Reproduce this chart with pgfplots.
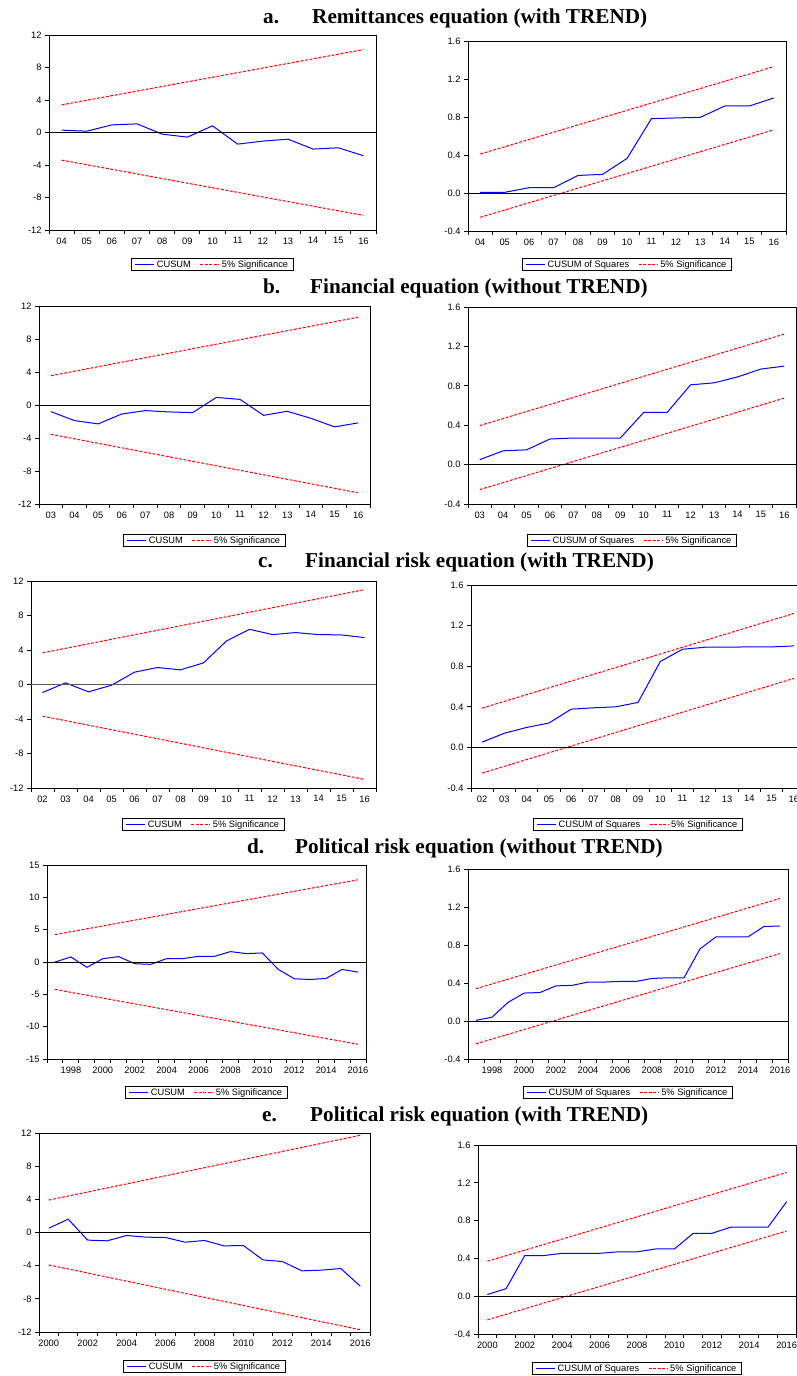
\documentclass[border=0pt]{standalone}
\usepackage{fontspec}
\setmainfont{Liberation Sans}
\newfontfamily\serifbf{Liberation Serif}[BoldFont={Liberation Serif Bold}]
\usepackage{pgfplots}
\pgfplotsset{compat=1.18}
\newcommand{\ttl}{\serifbf\bfseries\fontsize{21.2}{24}\selectfont}
\pgfplotsset{
  base/.style={
    scale only axis, anchor=south west,
    axis line style={black, line width=1pt},
    tick align=outside,
    xtick pos=left, ytick pos=left,
    major tick length=4pt, minor tick length=4pt,
    tick style={black, line width=1pt},
    major x tick style={draw=none},
    tick label style={font=\fontsize{9.3}{10}\selectfont, black},
    legend style={at={(0.5,0)}, anchor=north, legend columns=2, draw=black, line width=1pt,
      font=\fontsize{9.3}{10}\selectfont, inner xsep=3pt, inner ysep=0.5pt,
      nodes={inner ysep=1.5pt},
      /tikz/every even column/.append style={column sep=7pt}},
    legend image code/.code={\draw[#1] (0pt,0pt) -- (19pt,0pt);},
    legend cell align=left,
  },
  cu/.style={draw=blue, line width=1pt},
  sig/.style={draw=red, line width=1pt, dash pattern=on 3pt off 1.5pt},
  zl/.style={draw=black, line width=1pt, forget plot},
  ya/.style={ymin=-12, ymax=12, ytick={-12,-8,-4,0,4,8,12}, yticklabels={-12,-8,-4,0,4,8,12}},
  yq/.style={ymin=-0.4, ymax=1.6, ytick={-0.4,0,0.4,0.8,1.2,1.6}, yticklabels={-0.4,0.0,0.4,0.8,1.2,1.6}},
  xa/.style={xmin=3.5, xmax=16.5, xtick={4,...,16}, xticklabels={04,05,06,07,08,09,10,11,12,13,14,15,16}, minor xtick={3.5,4.5,...,16.5}},
  xb/.style={xmin=2.5, xmax=16.5, xtick={3,...,16}, xticklabels={03,04,05,06,07,08,09,10,11,12,13,14,15,16}, minor xtick={2.5,3.5,...,16.5}},
  xc/.style={xmin=1.5, xmax=16.5, xtick={2,...,16}, xticklabels={02,03,04,05,06,07,08,09,10,11,12,13,14,15,16}, minor xtick={1.5,2.5,...,16.5}},
  xd/.style={xmin=1996.5, xmax=2016.5, xtick={1998,2000,2002,2004,2006,2008,2010,2012,2014,2016}, xticklabels={1998,2000,2002,2004,2006,2008,2010,2012,2014,2016}, minor xtick={1996.5,1997.5,1998.5,1999.5,2000.5,2001.5,2002.5,2003.5,2004.5,2005.5,2006.5,2007.5,2008.5,2009.5,2010.5,2011.5,2012.5,2013.5,2014.5,2015.5,2016.5}},
  xe/.style={xmin=1999.5, xmax=2016.5, xtick={2000,2002,2004,2006,2008,2010,2012,2014,2016}, xticklabels={2000,2002,2004,2006,2008,2010,2012,2014,2016}, minor xtick={1999.5,2000.5,2001.5,2002.5,2003.5,2004.5,2005.5,2006.5,2007.5,2008.5,2009.5,2010.5,2011.5,2012.5,2013.5,2014.5,2015.5,2016.5}},
}
\begin{document}
\begin{tikzpicture}
\path[use as bounding box] (0,0) rectangle (796pt,-1376pt);

% titles
\node[anchor=base west, inner sep=0, font=\ttl] at (263pt,-23pt) {a.};
\node[anchor=base west, inner sep=0, font=\ttl] at (312pt,-23pt) {Remittances equation (with TREND)};
\node[anchor=base west, inner sep=0, font=\ttl] at (263pt,-293pt) {b.};
\node[anchor=base west, inner sep=0, font=\ttl] at (310pt,-293pt) {Financial equation (without TREND)};
\node[anchor=base west, inner sep=0, font=\ttl] at (258pt,-567pt) {c.};
\node[anchor=base west, inner sep=0, font=\ttl] at (305pt,-567pt) {Financial risk equation (with TREND)};
\node[anchor=base west, inner sep=0, font=\ttl] at (247pt,-853pt) {d.};
\node[anchor=base west, inner sep=0, font=\ttl] at (295pt,-853pt) {Political risk equation (without TREND)};
\node[anchor=base west, inner sep=0, font=\ttl] at (262pt,-1121pt) {e.};
\node[anchor=base west, inner sep=0, font=\ttl] at (310pt,-1121pt) {Political risk equation (with TREND)};

% ---------- a left
\begin{axis}[base, at={(49pt,-230pt)}, width=327pt, height=195pt, xa, ya, legend style={yshift=-28pt}]
\addplot[cu] coordinates {(4,0.29)(5,0.16)(6,0.94)(7,1.06)(8,-0.2)(9,-0.57)(10,0.82)(11,-1.43)(12,-1.06)(13,-0.82)(14,-2.04)(15,-1.88)(16,-2.86)};
\addlegendentry{CUSUM}
\addplot[sig] coordinates {(4,3.4)(16,10.2)};
\addlegendentry{5\% Significance}
\addplot[sig, forget plot] coordinates {(4,-3.4)(16,-10.2)};
\addplot[zl] coordinates {(3.5,0)(16.5,0)};
\end{axis}

% ---------- a right
\begin{axis}[base, at={(468pt,-231pt)}, width=318pt, height=190pt, xa, yq, legend style={yshift=-27pt}]
\addplot[cu] coordinates {(4,0.007)(5,0.007)(6,0.056)(7,0.056)(8,0.185)(9,0.196)(10,0.364)(11,0.783)(12,0.79)(13,0.797)(14,0.916)(15,0.916)(16,1.0)};
\addlegendentry{CUSUM of Squares}
\addplot[sig] coordinates {(4,0.41)(16,1.33)};
\addlegendentry{5\% Significance}
\addplot[sig, forget plot] coordinates {(4,-0.256)(16,0.665)};
\addplot[zl] coordinates {(3.5,0)(16.5,0)};
\end{axis}

% ---------- b left
\begin{axis}[base, at={(39pt,-504pt)}, width=331pt, height=198pt, xb, ya, legend style={yshift=-30pt}]
\addplot[cu] coordinates {(3,-0.8)(4,-1.89)(5,-2.29)(6,-1.09)(7,-0.68)(8,-0.84)(9,-0.92)(10,0.92)(11,0.68)(12,-1.25)(13,-0.76)(14,-1.61)(15,-2.65)(16,-2.17)};
\addlegendentry{CUSUM}
\addplot[sig] coordinates {(3,3.55)(16,10.64)};
\addlegendentry{5\% Significance}
\addplot[sig, forget plot] coordinates {(3,-3.55)(16,-10.64)};
\addplot[zl] coordinates {(2.5,0)(16.5,0)};
\end{axis}

% ---------- b right
\begin{axis}[base, at={(468pt,-504pt)}, width=328pt, height=197pt, xb, yq, legend style={yshift=-30pt}]
\addplot[cu] coordinates {(3,0.05)(4,0.14)(5,0.15)(6,0.26)(7,0.27)(8,0.27)(9,0.27)(10,0.53)(11,0.53)(12,0.81)(13,0.83)(14,0.89)(15,0.97)(16,1.0)};
\addlegendentry{CUSUM of Squares}
\addplot[sig] coordinates {(3,0.396)(16,1.325)};
\addlegendentry{5\% Significance}
\addplot[sig, forget plot] coordinates {(3,-0.254)(16,0.675)};
\addplot[zl] coordinates {(2.5,0)(16.5,0)};
\end{axis}

% ---------- c left
\begin{axis}[base, at={(31pt,-788pt)}, width=345pt, height=207pt, xc, ya, legend style={yshift=-30pt}]
\addplot[cu] coordinates {(2,-0.93)(3,0.19)(4,-0.85)(5,-0.08)(6,1.43)(7,1.97)(8,1.7)(9,2.51)(10,5.05)(11,6.4)(12,5.79)(13,6.02)(14,5.79)(15,5.75)(16,5.44)};
\addlegendentry{CUSUM}
\addplot[sig] coordinates {(2,3.67)(16,11.0)};
\addlegendentry{5\% Significance}
\addplot[sig, forget plot] coordinates {(2,-3.67)(16,-11.0)};
\addplot[zl, draw=black!65] coordinates {(1.5,0)(16.5,0)};
\end{axis}

% ---------- c right
\begin{axis}[base, at={(471pt,-788pt)}, width=334pt, height=203pt, xc, yq, legend style={yshift=-30pt}]
\addplot[cu] coordinates {(2,0.052)(3,0.14)(4,0.197)(5,0.24)(6,0.377)(7,0.39)(8,0.4)(9,0.443)(10,0.846)(11,0.967)(12,0.987)(13,0.988)(14,0.99)(15,0.99)(16,1.0)};
\addlegendentry{CUSUM of Squares}
\addplot[sig] coordinates {(2,0.387)(16,1.32)};
\addlegendentry{5\% Significance}
\addplot[sig, forget plot] coordinates {(2,-0.253)(16,0.68)};
\addplot[zl] coordinates {(1.5,0)(16.5,0)};
\end{axis}

% ---------- d left
\begin{axis}[base, at={(47pt,-1059pt)}, width=319pt, height=194pt, xd,
  ymin=-15, ymax=15, ytick={-15,-10,-5,0,5,10,15}, yticklabels={-15,-10,-5,0,5,10,15}, legend style={yshift=-27pt}]
\addplot[cu] coordinates {(1997,0)(1998,0.78)(1999,-0.83)(2000,0.52)(2001,0.83)(2002,-0.26)(2003,-0.36)(2004,0.52)(2005,0.52)(2006,0.88)(2007,0.88)(2008,1.61)(2009,1.3)(2010,1.4)(2011,-1.14)(2012,-2.59)(2013,-2.7)(2014,-2.54)(2015,-1.14)(2016,-1.56)};
\addlegendentry{CUSUM}
\addplot[sig] coordinates {(1997,4.24)(2016,12.72)};
\addlegendentry{5\% Significance}
\addplot[sig, forget plot] coordinates {(1997,-4.24)(2016,-12.72)};
\addplot[zl] coordinates {(1996.5,0)(2016.5,0)};
\end{axis}

% ---------- d right
\begin{axis}[base, at={(468pt,-1059pt)}, width=320pt, height=190pt, xd, yq, legend style={yshift=-27pt}]
\addplot[cu] coordinates {(1997,0.007)(1998,0.04)(1999,0.196)(2000,0.294)(2001,0.3)(2002,0.37)(2003,0.375)(2004,0.41)(2005,0.41)(2006,0.417)(2007,0.417)(2008,0.448)(2009,0.455)(2010,0.455)(2011,0.76)(2012,0.886)(2013,0.886)(2014,0.886)(2015,0.995)(2016,1.0)};
\addlegendentry{CUSUM of Squares}
\addplot[sig] coordinates {(1997,0.34)(2016,1.29)};
\addlegendentry{5\% Significance}
\addplot[sig, forget plot] coordinates {(1997,-0.24)(2016,0.71)};
\addplot[zl] coordinates {(1996.5,0)(2016.5,0)};
\end{axis}

% ---------- e left
\begin{axis}[base, at={(39pt,-1332pt)}, width=331pt, height=199pt, xe, ya, legend style={yshift=-28pt}]
\addplot[cu] coordinates {(2000,0.52)(2001,1.61)(2002,-0.92)(2003,-1.0)(2004,-0.36)(2005,-0.56)(2006,-0.6)(2007,-1.17)(2008,-0.96)(2009,-1.61)(2010,-1.57)(2011,-3.3)(2012,-3.5)(2013,-4.62)(2014,-4.54)(2015,-4.34)(2016,-6.47)};
\addlegendentry{CUSUM}
\addplot[sig] coordinates {(2000,3.91)(2016,11.73)};
\addlegendentry{5\% Significance}
\addplot[sig, forget plot] coordinates {(2000,-3.91)(2016,-11.73)};
\addplot[zl] coordinates {(1999.5,0)(2016.5,0)};
\end{axis}

% ---------- e right
\begin{axis}[base, at={(478pt,-1334pt)}, width=318pt, height=189pt, xe, yq, legend style={yshift=-28pt}]
\addplot[cu] coordinates {(2000,0.018)(2001,0.08)(2002,0.43)(2003,0.43)(2004,0.454)(2005,0.454)(2006,0.454)(2007,0.47)(2008,0.47)(2009,0.5)(2010,0.5)(2011,0.665)(2012,0.665)(2013,0.73)(2014,0.73)(2015,0.73)(2016,1.0)};
\addlegendentry{CUSUM of Squares}
\addplot[sig] coordinates {(2000,0.37)(2016,1.31)};
\addlegendentry{5\% Significance}
\addplot[sig, forget plot] coordinates {(2000,-0.25)(2016,0.69)};
\addplot[zl] coordinates {(1999.5,0)(2016.5,0)};
\end{axis}
\end{tikzpicture}
\end{document}
